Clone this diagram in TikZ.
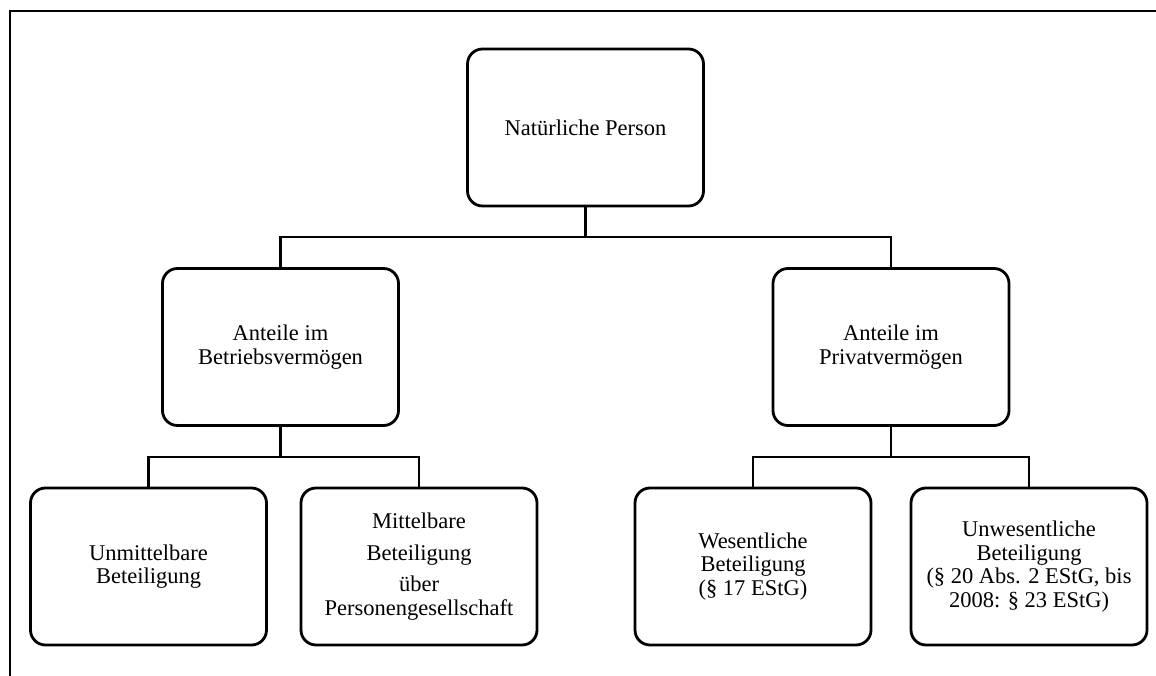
\documentclass[tikz,border=0pt]{standalone}
\usepackage{fontspec}
\setmainfont{Liberation Serif}
\begin{document}
\begin{tikzpicture}[x=1pt,y=-1pt,
  box/.style={draw,line width=2.8pt,rounded corners=15pt,minimum width=236pt,minimum height=157pt,
    align=center,inner sep=2pt,font=\fontsize{22.5}{23.5}\selectfont},
  conn/.style={line width=2.8pt},
  frame/.style={line width=2.8pt}]
\useasboundingbox (0,0) rectangle (1156,676);
\draw[frame] (1158,11) -- (10,11) -- (10,678);
\node[box] (np) at (585.5,127.5) {Natürliche Person};
\node[box] (bv) at (280.5,347) {Anteile im\\Betriebsvermögen};
\node[box] (pv) at (891,347) {Anteile im\\Privatvermögen};
\node[box] (um) at (148.5,566.5) {Unmittelbare\\Beteiligung};
\node[box] (mb) at (419,566.5) {Mittelbare\\[8pt]Beteiligung\\[8pt]über\\Personengesellschaft};
\node[box] (we) at (753,566.5) {Wesentliche\\Beteiligung\\(§ 17 EStG)};
\node[box] (uw) at (1029,566.5) {Unwesentliche\\Beteiligung\\(§ 20 Abs. 2 EStG, bis\\2008: § 23 EStG)};
\coordinate (b1) at (585.5,237);
\coordinate (b2) at (280.5,457);
\coordinate (b3) at (891,457);
\draw[conn] (np.south) -- (b1);
\draw[conn] (bv.north) |- (b1) -| (pv.north);
\draw[conn] (bv.south) -- (b2);
\draw[conn] (um.north) |- (b2) -| (mb.north);
\draw[conn] (pv.south) -- (b3);
\draw[conn] (we.north) |- (b3) -| (uw.north);
\end{tikzpicture}
\end{document}
